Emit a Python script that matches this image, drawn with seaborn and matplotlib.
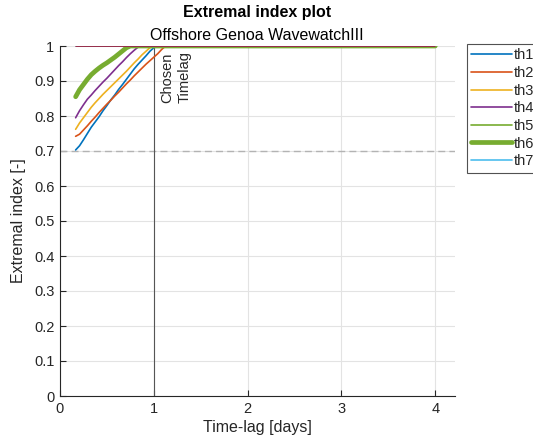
import numpy as np
import pandas as pd
import matplotlib
matplotlib.use("Agg")
import matplotlib.pyplot as plt
import seaborn as sns

sns.set_theme(style="white")
plt.rcParams['font.family'] = ['Liberation Sans', 'DejaVu Sans']

# time-lag in days (hourly steps from 4 h) – curves reach 1 and stay there to 4 days
hours = list(range(4, 29))
x_days = [h / 24 for h in hours] + [4.0]

th1 = [0.703, 0.715, 0.732, 0.75, 0.768, 0.783, 0.798, 0.815, 0.83, 0.846, 0.86, 0.876,
       0.89, 0.905, 0.92, 0.935, 0.948, 0.96, 0.972, 0.985, 0.995, 1, 1, 1, 1, 1]
th2 = [0.742, 0.748, 0.76, 0.772, 0.785, 0.797, 0.81, 0.822, 0.834, 0.845, 0.857, 0.868,
       0.88, 0.892, 0.903, 0.915, 0.926, 0.937, 0.948, 0.958, 0.968, 0.978, 0.99, 1, 1, 1]
th3 = [0.762, 0.78, 0.795, 0.81, 0.825, 0.838, 0.85, 0.862, 0.873, 0.884, 0.895, 0.906,
       0.917, 0.928, 0.94, 0.952, 0.963, 0.975, 0.985, 0.995, 1, 1, 1, 1, 1, 1]
th4 = [0.795, 0.815, 0.832, 0.848, 0.86, 0.873, 0.885, 0.897, 0.908, 0.92, 0.932, 0.944,
       0.955, 0.967, 0.978, 0.988, 0.997, 1, 1, 1, 1, 1, 1, 1, 1, 1]
th5 = [0.855, 0.875, 0.89, 0.905, 0.918, 0.928, 0.937, 0.945, 0.952, 0.96, 0.968, 0.977,
       0.986, 0.995, 1, 1, 1, 1, 1, 1, 1, 1, 1, 1, 1, 1]
th6 = [0.855, 0.875, 0.89, 0.905, 0.918, 0.928, 0.937, 0.945, 0.952, 0.96, 0.968, 0.977,
       0.986, 0.995, 1, 1, 1, 1, 1, 1, 1, 1, 1, 1, 1, 1]
th7 = [1] * 26
th8 = [1] * 26

labels = ["th1", "th2", "th3", "th4", "th5", "th6", "th7", "_th8"]
series = [th1, th2, th3, th4, th5, th6, th7, th8]
colors = ["#0072BD", "#D95319", "#EDB120", "#7E2F8E", "#77AC30", "#77AC30", "#4DBEEE", "#A2142F"]
widths = [1.2, 1.2, 1.2, 1.2, 1.2, 3.4, 1.2, 1.2]

chosen_timelag = 1.0
threshold_line = 0.7

fig = plt.figure(figsize=(5.33, 4.45), dpi=100)
ax = fig.add_axes([60 / 533, 49 / 445, 395 / 533, 350 / 445])

for lab, s, c, w in zip(labels, series, colors, widths):
    df = pd.DataFrame({"x": x_days, "y": s})
    sns.lineplot(data=df, x="x", y="y", ax=ax, color=c, linewidth=w, label=lab)

ax.axhline(threshold_line, color="#b3b3b3", linestyle=(0, (5, 3)), linewidth=1.0, zorder=1)
ax.axvline(chosen_timelag, ymin=0, ymax=1, color="#555555", linewidth=0.8, zorder=1)
ax.text(chosen_timelag + 0.065, 0.985, "Chosen\nTimelag", rotation=90, ha="left", va="top",
        fontsize=10.5, color="#262626", linespacing=1.35)

ax.set_xlim(0, 4.21)
ax.set_ylim(0, 1)
ax.set_xticks([0, 1, 2, 3, 4])
ax.set_yticks(np.round(np.arange(0, 1.01, 0.1), 1))
ax.set_yticklabels(["0", "0.1", "0.2", "0.3", "0.4", "0.5", "0.6", "0.7", "0.8", "0.9", "1"])
ax.grid(True, color="#e3e3e3", linewidth=0.8)
ax.set_axisbelow(True)
for sp in ["top", "right"]:
    ax.spines[sp].set_visible(False)
for sp in ["left", "bottom"]:
    ax.spines[sp].set_color("#262626")
    ax.spines[sp].set_linewidth(0.8)
ax.tick_params(direction="in", length=4, width=0.8, colors="#262626", labelsize=10.5,
               left=True, bottom=True, pad=4)
ax.set_xlabel("Time-lag [days]", fontsize=11.5, color="#262626", labelpad=3)
ax.set_ylabel("Extremal index [-]", fontsize=11.5, color="#262626", labelpad=6)

fig.text(257 / 533, 1 - 13 / 445, "Extremal index plot", ha="center", va="center",
         fontsize=11.5, fontweight="bold", color="#000000")
fig.text(257 / 533, 1 - 35 / 445, "Offshore Genoa WavewatchIII", ha="center", va="center",
         fontsize=11.5, color="#000000")

leg = ax.legend(loc="upper left", bbox_to_anchor=(467 / 533, 1 - 44 / 445),
                bbox_transform=fig.transFigure, frameon=True, fontsize=10.5,
                handlelength=2.8, handletextpad=0.08, labelspacing=0.25, borderpad=0.3,
                borderaxespad=0, fancybox=False)
leg.get_frame().set_edgecolor("#262626")
leg.get_frame().set_linewidth(0.8)

fig.savefig("out.png", dpi=100)
